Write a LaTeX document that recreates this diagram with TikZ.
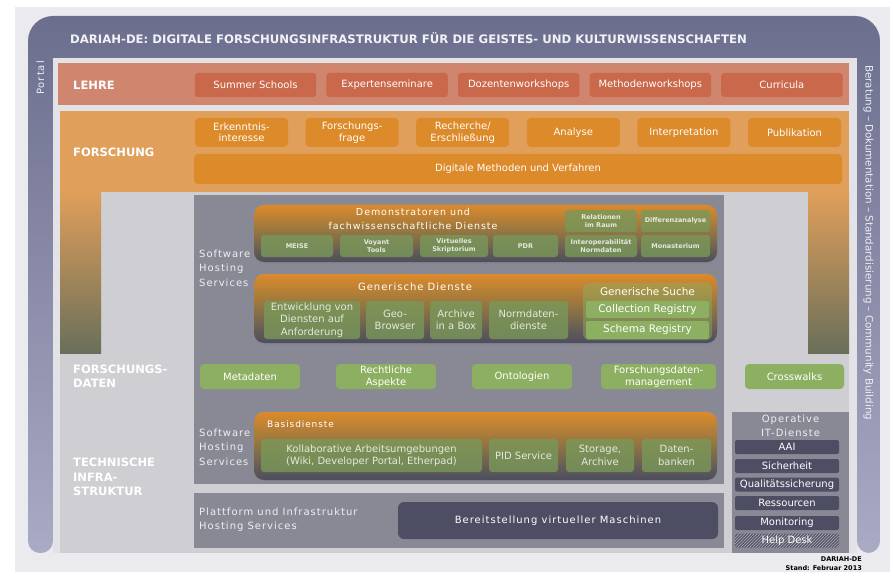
\documentclass[tikz,border=0pt]{standalone}
\usepackage{fontspec}
\setmainfont{DejaVu Sans}
\newfontfamily\spacedfont[LetterSpace=10]{DejaVu Sans}
\usetikzlibrary{patterns,shadows}

\definecolor{framec}{HTML}{6C6E8E}
\definecolor{framelow}{HTML}{A9AAC4}
\definecolor{bgc}{HTML}{EAEAEF}
\definecolor{innerc}{HTML}{E2E2E7}
\definecolor{lehrec}{HTML}{CF856E}
\definecolor{lehrebx}{HTML}{C9684A}
\definecolor{forschc}{HTML}{E09F5A}
\definecolor{forschbx}{HTML}{DC8A2A}
\definecolor{legc}{HTML}{6A6F5A}
\definecolor{lgray}{HTML}{CECED3}
\definecolor{panelc}{HTML}{898996}
\definecolor{greenc}{HTML}{8DAF62}
\definecolor{greendk}{HTML}{79985A}
\definecolor{slatec}{HTML}{4D4D63}
\definecolor{gradtop}{HTML}{DC8A2A}
\definecolor{gradmid}{HTML}{8E7443}
\definecolor{gradbot}{HTML}{4B4E5F}
\definecolor{hostc}{HTML}{EEEEF2}
\definecolor{titlec}{HTML}{F2F2F6}

\begin{document}
\begin{tikzpicture}[x=1pt, y=-1pt,
    lehrebox/.style={fill=lehrebx, rounded corners=3, minimum width=121.4, minimum height=24, inner sep=0, text=white, font=\fontsize{10}{12}\selectfont},
    forschbox/.style={fill=forschbx, rounded corners=4, minimum width=93, minimum height=29, inner sep=0, align=center, text=white, font=\fontsize{10}{11.5}\selectfont},
    layer/.style={anchor=west, align=left, inner sep=0, text=white, font=\fontsize{11.5}{14.5}\selectfont\bfseries},
    hosting/.style={anchor=west, align=left, inner sep=0, text=hostc, font=\spacedfont\fontsize{10}{14.5}\selectfont},
    gradbox/.style={top color=gradtop, bottom color=gradbot, middle color=gradmid, rounded corners=10, minimum width=463, inner sep=0, drop shadow={shadow xshift=0pt, shadow yshift=-2pt, opacity=0.3}},
    gtitle/.style={inner sep=0, align=center, text=white, font=\spacedfont\fontsize{9.5}{14}\selectfont},
    ginbox/.style={fill=greendk, fill opacity=0.8, rounded corners=3, inner sep=0, align=center, text=white, font=\fontsize{10}{12.5}\selectfont},
    demobox/.style={ginbox, minimum height=22, font=\fontsize{6.5}{8}\selectfont\bfseries},
    suchebox/.style={fill=greenc, fill opacity=0.45, rounded corners=6, inner sep=0},
    regbox/.style={fill=greenc, rounded corners=2, minimum width=123, inner sep=0, text=white, font=\fontsize{10.5}{12}\selectfont},
    databox/.style={fill=greenc, rounded corners=4, minimum width=100, minimum height=25, inner sep=0, align=center, text=white, font=\fontsize{10}{12.5}\selectfont},
    opitem/.style={fill=slatec, rounded corners=2, minimum width=104, minimum height=14, inner sep=0, text=white, font=\fontsize{10}{12}\selectfont}
]
\useasboundingbox (0,0) rectangle (893,577);
\fill[white] (0,0) rectangle (893,577);
\fill[bgc] (15,7) rectangle (890,572);

% frame with portal and side bar
\shade[top color=framec, bottom color=framelow] (53,58) [rounded corners=12] -- (53,553) -- (28,553) [rounded corners=25] -- (28,16) -- (880,16) [rounded corners=12] -- (880,553) -- (857,553) [sharp corners] -- (857,58) -- cycle;
\fill[innerc] (53,58) rectangle (857,553);
\node[anchor=west, inner sep=0, text=titlec, font=\fontsize{11.7}{13}\selectfont\bfseries] (title) at (70,38) {DARIAH-DE: DIGITALE FORSCHUNGSINFRASTRUKTUR FÜR DIE GEISTES- UND KULTURWISSENSCHAFTEN};
\node[rotate=90, inner sep=0, text=hostc, font=\spacedfont\fontsize{10}{12}\selectfont] (portal) at (40.5,78) {Portal};
\node[rotate=-90, anchor=west, inner sep=0, text=hostc, font=\fontsize{10.3}{12}\selectfont] (side) at (868.5,65) {Beratung -- Dokumentation -- Standardisierung -- Community Building};

% Lehre
\fill[lehrec] (58,63) rectangle (849,105);
\node[layer] (lehre) at (73,85) {LEHRE};
\node[lehrebox] (summer) at (255.5,85) {Summer Schools};
\node[lehrebox] (experten) at (387.1,85) {Expertenseminare};
\node[lehrebox] (dozenten) at (518.7,85) {Dozentenworkshops};
\node[lehrebox] (methoden) at (650.3,85) {Methodenworkshops};
\node[lehrebox] (curricula) at (781.9,85) {Curricula};

% Forschung
\fill[lgray] (60,192) rectangle (849,553);
\fill[forschc] (60,111) rectangle (849,192);
\shade[top color=forschc, bottom color=legc] (60,191) rectangle (101,353);
\shade[top color=forschc, bottom color=legc] (808,191) rectangle (849,353);
\node[layer] (forschung) at (73,152) {FORSCHUNG};
\node[forschbox] (erkenntnis) at (241.5,132.5) {Erkenntnis-\\interesse};
\node[forschbox] (frage) at (352.1,132.5) {Forschungs-\\frage};
\node[forschbox] (recherche) at (462.7,132.5) {Recherche/\\Erschließung};
\node[forschbox] (analyse) at (573.3,132.5) {Analyse};
\node[forschbox] (interpretation) at (683.9,132.5) {Interpretation};
\node[forschbox] (publikation) at (794.5,132.5) {Publikation};
\node[forschbox, minimum width=648, minimum height=30] (digital) at (518,169) {Digitale Methoden und Verfahren};

% software hosting panel
\fill[panelc] (194,195) rectangle (724,484);
\fill[panelc] (194,493) rectangle (724,548);
\node[hosting] (shs1) at (199,268) {Software\\Hosting\\Services};
\node[hosting] (shs2) at (199,447) {Software\\Hosting\\Services};

% Demonstratoren
\node[gradbox, minimum height=57] (demo) at (485.5,233.5) {};
\node[gtitle] (demotitle) at (413,219) {Demonstratoren und\\fachwissenschaftliche Dienste};
\node[demobox, minimum width=72] (meise) at (297,246) {MEISE};
\node[demobox, minimum width=73] (voyant) at (376.5,246) {Voyant\\Tools};
\node[demobox, minimum width=68] (skript) at (454,246) {Virtuelles\\Skriptorium};
\node[demobox, minimum width=65] (pdr) at (525.5,246) {PDR};
\node[demobox, minimum width=72] (interop) at (601,246) {Interoperabilität\\Normdaten};
\node[demobox, minimum width=69] (monast) at (675.5,246) {Monasterium};
\node[demobox, minimum width=72] (relat) at (601,221) {Relationen\\im Raum};
\node[demobox, minimum width=69] (diff) at (675.5,221) {Differenzanalyse};

% Generische Dienste
\node[gradbox, minimum height=69] (generic) at (485.5,308.5) {};
\node[gtitle, font=\spacedfont\fontsize{10}{12}\selectfont] (generictitle) at (415,287) {Generische Dienste};
\node[ginbox, minimum width=96, minimum height=38] (entw) at (312,320) {Entwicklung von\\Diensten auf\\Anforderung};
\node[ginbox, minimum width=58, minimum height=38] (geo) at (395,320) {Geo-\\Browser};
\node[ginbox, minimum width=52, minimum height=38] (aiab) at (456,320) {Archive\\in a Box};
\node[ginbox, minimum width=79, minimum height=38] (normdaten) at (528.5,320) {Normdaten-\\dienste};
\node[suchebox, minimum width=129, minimum height=57] (suche) at (647.5,311.5) {};
\node[inner sep=0, text=white, font=\fontsize{10.5}{12}\selectfont] (suchetitle) at (647.5,292) {Generische Suche};
\node[regbox, minimum height=17] (collreg) at (647.5,309.5) {Collection Registry};
\node[regbox, minimum height=18] (schemareg) at (647.5,330) {Schema Registry};

% Forschungsdaten
\node[layer] (fdaten) at (73,376) {FORSCHUNGS-\\DATEN};
\node[databox] (meta) at (250,376.5) {Metadaten};
\node[databox] (recht) at (386,376.5) {Rechtliche\\Aspekte};
\node[databox] (onto) at (522,376.5) {Ontologien};
\node[databox, minimum width=115] (fdm) at (658.5,376.5) {Forschungsdaten-\\management};
\node[databox, minimum width=99] (cross) at (794.5,376.5) {Crosswalks};

% Basisdienste
\node[layer] (techinf) at (73,477) {TECHNISCHE\\INFRA-\\STRUKTUR};
\node[gradbox, minimum height=68] (basis) at (485.5,446) {};
\node[gtitle, anchor=west, font=\spacedfont\fontsize{9}{11}\selectfont] (basistitle) at (267,424) {Basisdienste};
\node[ginbox, minimum width=221, minimum height=33] (kollab) at (371.5,455.5) {Kollaborative Arbeitsumgebungen\\(Wiki, Developer Portal, Etherpad)};
\node[ginbox, minimum width=69, minimum height=33] (pid) at (523.5,455.5) {PID Service};
\node[ginbox, minimum width=68, minimum height=33] (storage) at (600,455.5) {Storage,\\Archive};
\node[ginbox, minimum width=69, minimum height=33] (datenbank) at (676.5,455.5) {Daten-\\banken};

% Plattform
\node[hosting, font=\spacedfont\fontsize{10}{14}\selectfont] (plattform) at (199,520) {Plattform und Infrastruktur\\Hosting Services};
\node[fill=slatec, rounded corners=6, minimum width=320, minimum height=37, inner sep=0, text=white, font=\spacedfont\fontsize{10}{12}\selectfont] (vm) at (558,520.5) {Bereitstellung virtueller Maschinen};

% Operative IT-Dienste
\fill[panelc] (732,412) rectangle (849,553);
\node[inner sep=0, align=center, text=hostc, font=\spacedfont\fontsize{10}{14}\selectfont] (optitle) at (790.5,426) {Operative\\IT-Dienste};
\node[opitem] (aai) at (787,447) {AAI};
\node[opitem] (sicher) at (787,466) {Sicherheit};
\node[opitem] (quali) at (787,484.5) {Qualitätssicherung};
\node[opitem] (ressourcen) at (787,503) {Ressourcen};
\node[opitem] (monitoring) at (787,523) {Monitoring};
\node[opitem, fill=none, preaction={fill=slatec!80!panelc}, pattern=north east lines, pattern color=panelc!70!white] (helpdesk) at (787,540.5) {Help Desk};

% footer
\node[anchor=east, inner sep=0, font=\fontsize{6.5}{7}\selectfont\bfseries] (org) at (862,559) {DARIAH-DE};
\node[anchor=east, inner sep=0, font=\fontsize{6.5}{7}\selectfont\bfseries] (stand) at (862,568) {Stand: Februar 2013};
\end{tikzpicture}
\end{document}
